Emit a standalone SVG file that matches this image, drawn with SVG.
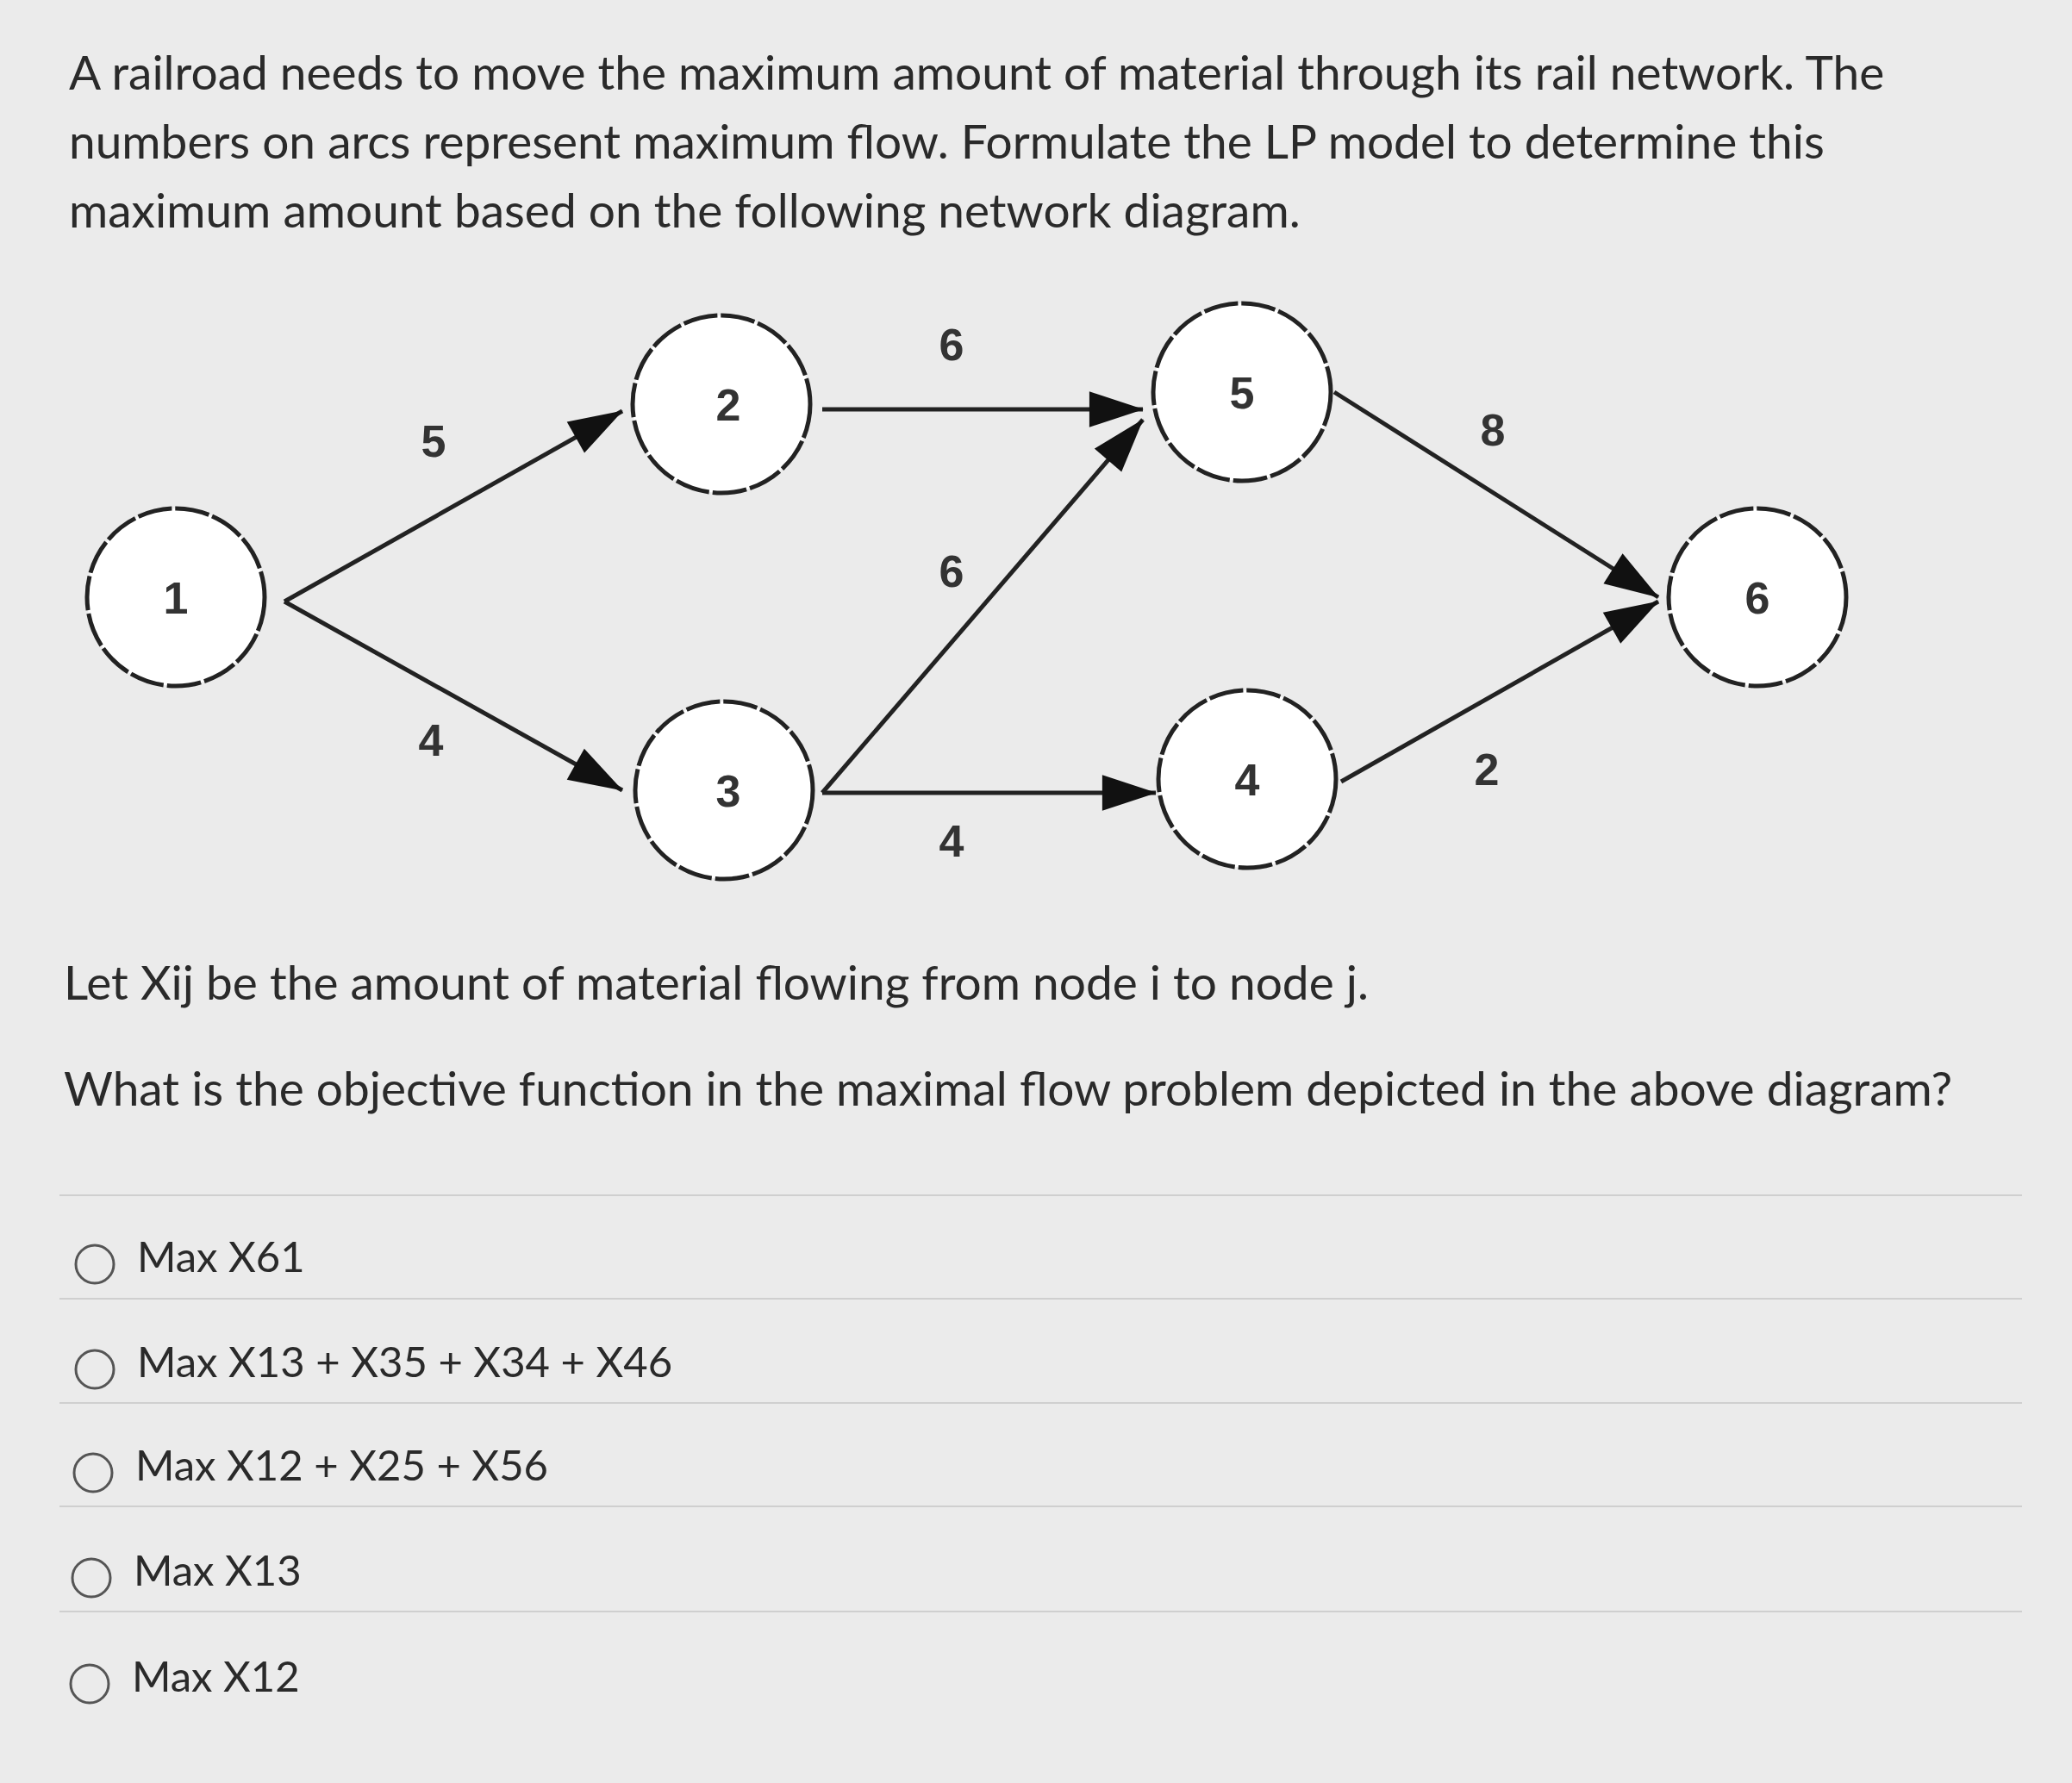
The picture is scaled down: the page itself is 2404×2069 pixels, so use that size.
<svg xmlns="http://www.w3.org/2000/svg" width="2404" height="2069" viewBox="0 0 2404 2069">
<style>
.q{font-family:Lato,"Liberation Sans",sans-serif;font-size:55px;fill:#2a2a2a}
.o{font-family:Lato,"Liberation Sans",sans-serif;font-size:49px;fill:#2a2a2a}
.n{fill:#fff;stroke:#222;stroke-width:5;stroke-dasharray:40 4}
.nt{font-family:"Liberation Sans",Arial,sans-serif;font-weight:bold;font-size:52px;fill:#333;text-anchor:middle}
.e{stroke:#222;stroke-width:5;fill:none;marker-end:url(#ah)}
.sep{stroke:#cfcfcf;stroke-width:2}
.rb{fill:none;stroke:#555;stroke-width:3}
</style>
<defs><marker id="ah" viewBox="0 0 10 10" refX="9" refY="5" markerWidth="10" markerHeight="9" markerUnits="userSpaceOnUse" orient="auto" style="overflow:visible"><path d="M-60,-18 L10,5 L-60,28 Z" fill="#111"/></marker></defs>
<rect width="2404" height="2069" fill="#ebebeb"/>
<text class="q" x="80" y="104">A railroad needs to move the maximum amount of material through its rail network. The</text>
<text class="q" x="80" y="184">numbers on arcs represent maximum flow. Formulate the LP model to determine this</text>
<text class="q" x="80" y="264">maximum amount based on the following network diagram.</text>
<g id="connectors">
<path class="e" d="M330,698 L722,477"/>
<path class="e" d="M330,698 L722,917"/>
<path class="e" d="M954,475 L1326,475"/>
<path class="e" d="M954,920 L1326,487"/>
<path class="e" d="M954,920 L1341,920"/>
<path class="e" d="M1548,455 L1924,693"/>
<path class="e" d="M1556,907 L1924,698"/>
<g class="nt"><text x="503" y="530">5</text><text x="500" y="877">4</text><text x="1104" y="418">6</text><text x="1104" y="681">6</text><text x="1104" y="994">4</text><text x="1732" y="517">8</text><text x="1725" y="911">2</text></g>
</g>
<g id="n1"><circle class="n" cx="204" cy="693" r="103"/><text class="nt" x="204" y="712">1</text></g>
<g id="n2"><circle class="n" cx="837" cy="469" r="103"/><text class="nt" x="845" y="488">2</text></g>
<g id="n3"><circle class="n" cx="840" cy="917" r="103"/><text class="nt" x="845" y="936">3</text></g>
<g id="n5"><circle class="n" cx="1441" cy="455" r="103"/><text class="nt" x="1441" y="474">5</text></g>
<g id="n4"><circle class="n" cx="1447" cy="904" r="103"/><text class="nt" x="1447" y="923">4</text></g>
<g id="n6"><circle class="n" cx="2039" cy="693" r="103"/><text class="nt" x="2039" y="712">6</text></g>
<text class="q" x="74" y="1160">Let Xij be the amount of material flowing from node i to node j.</text>
<text class="q" x="74" y="1283">What is the objective function in the maximal flow problem depicted in the above diagram?</text>
<line class="sep" x1="69" y1="1387" x2="2346" y2="1387"/>
<line class="sep" x1="69" y1="1507" x2="2346" y2="1507"/>
<line class="sep" x1="69" y1="1628" x2="2346" y2="1628"/>
<line class="sep" x1="69" y1="1748" x2="2346" y2="1748"/>
<line class="sep" x1="69" y1="1870" x2="2346" y2="1870"/>
<circle class="rb" cx="110" cy="1467" r="22"/><text class="o" x="159" y="1476">Max X61</text>
<circle class="rb" cx="110" cy="1589" r="22"/><text class="o" x="159" y="1598">Max X13 + X35 + X34 + X46</text>
<circle class="rb" cx="108" cy="1709" r="22"/><text class="o" x="157" y="1718">Max X12 + X25 + X56</text>
<circle class="rb" cx="106" cy="1831" r="22"/><text class="o" x="155" y="1840">Max X13</text>
<circle class="rb" cx="104" cy="1954" r="22"/><text class="o" x="153" y="1963">Max X12</text>
</svg>
